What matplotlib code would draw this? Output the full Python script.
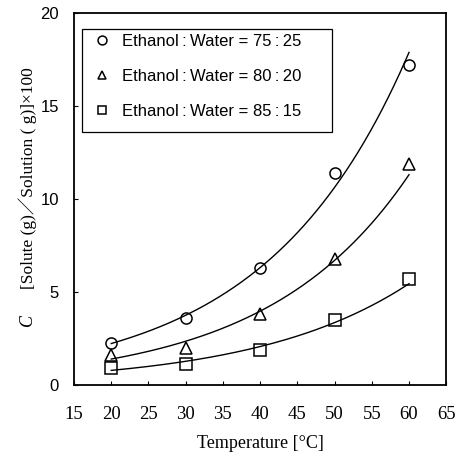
import numpy as np
import matplotlib
matplotlib.use("Agg")
import matplotlib.pyplot as plt
import matplotlib.patches as patches

# measured solubility data
temperature = [20, 30, 40, 50, 60]
c_75_25 = [2.27, 3.58, 6.29, 11.4, 17.2]
c_80_20 = [1.6, 2.0, 3.8, 6.8, 11.9]
c_85_15 = [0.9, 1.1, 1.9, 3.5, 5.7]
labels = ["Ethanol\u2009:\u2009Water = 75\u2009:\u200925",
          "Ethanol\u2009:\u2009Water = 80\u2009:\u200920",
          "Ethanol\u2009:\u2009Water = 85\u2009:\u200915"]
markers = ["o", "^", "s"]

serif = ["Liberation Serif", "Noto Sans CJK JP"]
sans = ["Liberation Sans", "DejaVu Sans"]

fig = plt.figure(figsize=(4.6, 4.55), dpi=100)
ax = fig.add_axes([0.161, 0.154, 0.809, 0.817])

x = np.array(temperature, dtype=float)
xs = np.linspace(20, 60, 200)
handles = []
for ys, mk, lab in zip([c_75_25, c_80_20, c_85_15], markers, labels):
    # exponential fit through the points
    b, a = np.polyfit(x, np.log(ys), 1)
    ax.plot(xs, np.exp(a + b * xs), color="black", lw=1.0)
    h, = ax.plot(x, ys, linestyle="none", marker=mk, markersize=8,
                 markerfacecolor="none", markeredgecolor="black",
                 markeredgewidth=1.1, label=lab)
    handles.append(h)

ax.set_xlim(15, 65)
ax.set_ylim(0, 20)
ax.set_xticks(range(15, 70, 5))
ax.set_yticks([0, 5, 10, 15, 20])
ax.tick_params(direction="in", length=3, width=0.8)
ax.tick_params(axis="x", pad=15)
ax.tick_params(axis="y", pad=11)
for t in ax.get_xticklabels():
    t.set_fontfamily(serif)
    t.set_fontsize(13.5)
for t in ax.get_yticklabels():
    t.set_fontfamily(sans)
    t.set_fontsize(12)
for s in ax.spines.values():
    s.set_linewidth(1.3)

ax.set_xlabel("Temperature [°C]", fontfamily=serif, fontsize=13, labelpad=9)
ax.text(-0.126, 0.175, "C", transform=ax.transAxes, rotation=90,
        ha="center", va="center", fontfamily=serif, fontstyle="italic", fontsize=13)
ax.text(-0.126, 0.555, "[Solute (g)／Solution ( g)]×100", transform=ax.transAxes,
        rotation=90, ha="center", va="center", fontfamily=serif, fontsize=12.5)

leg = ax.legend(handles=handles, loc="upper left", bbox_to_anchor=(0.054, 0.944),
                prop={"family": sans, "size": 12}, frameon=False, markerscale=0.8,
                handlelength=1.0, handletextpad=0.7, labelspacing=1.2,
                borderpad=0, borderaxespad=0)
ax.add_patch(patches.Rectangle((0.0215, 0.680), 0.672, 0.278, transform=ax.transAxes,
                               fill=False, edgecolor="black", linewidth=0.9))

fig.savefig("out.png", dpi=100)
